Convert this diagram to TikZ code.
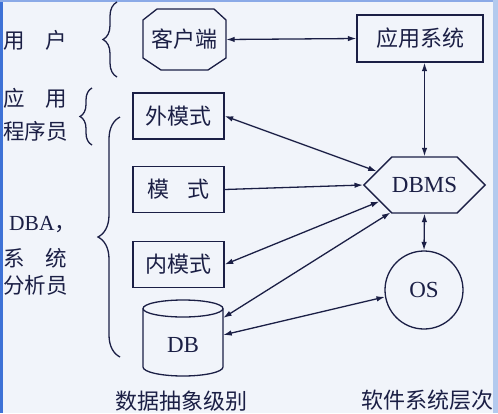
\documentclass[tikz,border=0pt]{standalone}
\usepackage{fontspec}
\setmainfont{Liberation Serif}
\newfontfamily\cjk{Noto Sans CJK SC}
\usetikzlibrary{arrows.meta,shapes.symbols,decorations.pathreplacing,calc}
\definecolor{bg}{HTML}{F1F4FA}
\definecolor{ink}{HTML}{1B1F45}
\definecolor{frameblue}{HTML}{3E72D6}
\definecolor{framelight}{HTML}{B3CAEE}
\begin{document}
\begin{tikzpicture}[x=1pt,y=-1pt,
  >={Latex[length=8.5pt,width=5.5pt]},
  every node/.style={text=ink},
  line/.style={draw=ink, line width=1.3pt},
  conn/.style={draw=ink, line width=1.3pt},
  cjkfont/.style={font=\cjk\fontsize{22}{24}\selectfont},
  latfont/.style={font=\fontsize{23}{26}\selectfont},
  box/.style={draw=ink, line width=1.3pt, minimum width=91pt, minimum height=46pt, inner sep=0pt, cjkfont},
  lbl/.style={anchor=west, inner sep=0pt, font=\cjk\fontsize{21.5}{24}\selectfont},
  brc/.style={draw=ink, line width=1.3pt, decorate, decoration={brace, amplitude=#1}},
  ]
\fill[bg] (0,0) rectangle (498,413);
\useasboundingbox (0,0) rectangle (498,413);
\fill[frameblue] (0,0) rectangle (3,413);
\fill[frameblue!60] (0,0) rectangle (498,1.5);
\fill[framelight] (493,0) rectangle (498,413);

% left labels
\node[lbl] (l1) at (3,40) {\makebox[64pt]{用\hfill 户}};
\node[lbl] (l2) at (3,98) {\makebox[64pt]{应\hfill 用}};
\node[lbl] (l3) at (3,131) {程序员};
\node[lbl, font=\fontsize{21.5}{24}\selectfont] (l4) at (9,225) {DBA{\cjk ，}};
\node[lbl] (l5) at (3,258) {\makebox[64pt]{系\hfill 统}};
\node[lbl] (l6) at (3,285) {分析员};

% braces
\draw[brc=14pt] (117,77) -- (117,2);
\draw[brc=12pt] (92,145) -- (92,88);
\draw[brc=22pt] (120,357) -- (120,117);

% client shape
\draw[line] (143,20) -- (157,9) -- (214,9) -- (226,20) -- (226,58) -- (208,70) -- (161,70) -- (143,58) -- cycle;
\node[cjkfont, minimum width=83pt, minimum height=50pt, inner sep=0pt] (kehu) at (184.5,39.5) {客户端};

% boxes
\node[box, minimum width=126pt, minimum height=47pt] (app) at (420,38.5) {应用系统};
\node[box] (wai) at (178.5,116) {外模式};
\node[box] (mo) at (178.5,189.5) {模\hspace{0.8em}式};
\node[box] (nei) at (178.5,264.5) {内模式};

% DBMS hexagon
\node[draw=ink, line width=1.3pt, shape=signal, signal to=east and west, signal pointer angle=90,
      minimum width=120pt, minimum height=56pt, inner sep=0pt, latfont] (dbms) at (424.5,185) {DBMS};

% OS circle
\node[draw=ink, line width=1.3pt, circle, minimum size=78pt, inner sep=0pt, latfont] (os) at (424,290) {OS};

% DB cylinder
\draw[line] (143,308.5) -- (143,367) arc[start angle=180, end angle=360, x radius=40pt, y radius=9pt] -- (223,308.5);
\draw[line] (183,308.5) ellipse [x radius=40pt, y radius=8.5pt];
\node[latfont, minimum width=80pt, minimum height=62pt, inner sep=0pt] (db) at (183,345) {DB};

% connectors
\draw[conn,<->] (kehu.east) -- (app.west);
\draw[conn,<->] (dbms.north |- app.south) -- (dbms.north);
\draw[conn,<->] (dbms.south) -- (os.north);
\draw[conn,<->] (wai.east) -- (dbms.164);
\draw[conn,->] (mo.east) -- (dbms.west);
\draw[conn,<->] (nei.east) -- (dbms.200);
\draw[conn,<->] (db.34) -- (dbms.219);
\draw[conn,<->] (db.14) -- (os.190);

% bottom captions
\node[cjkfont] (t1) at (181,401) {数据抽象级别};
\node[cjkfont] (t2) at (427,400) {软件系统层次};
\end{tikzpicture}
\end{document}
